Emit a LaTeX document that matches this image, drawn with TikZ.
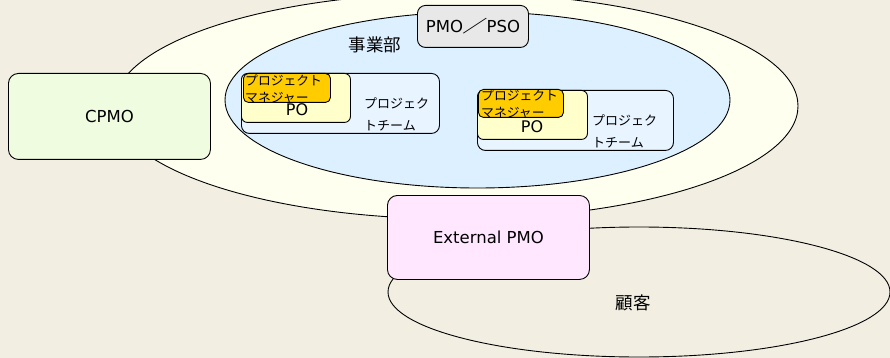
\documentclass[tikz,border=0pt]{standalone}
\usepackage{fontspec}
\usepackage{graphicx}
\setmainfont{Noto Sans CJK JP}
\newfontfamily\latf{DejaVu Sans}
\usetikzlibrary{shapes.geometric}
\definecolor{bgc}{RGB}{242,239,226}
\definecolor{outerc}{RGB}{255,255,240}
\definecolor{innerc}{RGB}{220,240,255}
\definecolor{teamc}{RGB}{232,244,255}
\definecolor{poc}{RGB}{255,255,204}
\definecolor{pmc}{RGB}{255,204,0}
\definecolor{cpmoc}{RGB}{240,252,224}
\definecolor{extc}{RGB}{255,232,255}
\definecolor{pmoc}{RGB}{232,232,232}
\tikzset{
  line/.style={draw=black, line width=0.9pt},
  oval/.style={line, ellipse, inner sep=0pt},
  boxs/.style={line, rectangle, inner sep=0pt, anchor=north west},
  bigtxt/.style={font=\fontsize{17.5}{21}\selectfont, inner sep=0pt},
  lattxt/.style={font=\latf\fontsize{16.5}{20}\selectfont, inner sep=0pt},
  smalltxt/.style={inner sep=0pt, align=left, anchor=west},
}
\begin{document}
\begin{tikzpicture}[x=1pt,y=-1pt]
\fill[bgc] (0,0) rectangle (890,358);
\useasboundingbox (0,0) rectangle (890,358);
\begin{scope}
\clip (0,0) rectangle (890,358);
\node[oval, fill=outerc, minimum width=684pt, minimum height=226pt] (outer) at (456,106) {};
\node[oval, fill=innerc, minimum width=505pt, minimum height=176pt] (inner) at (477.5,100) {};
\node[bigtxt] (bu) at (375,45) {事業部};
% team 1
\node[boxs, fill=teamc, rounded corners=8pt, minimum width=198pt, minimum height=60pt] (team1) at (241,73) {};
\node[boxs, fill=poc, rounded corners=6pt, minimum width=109pt, minimum height=49pt] (po1) at (241,73) {};
\node[boxs, fill=pmc, rounded corners=5pt, minimum width=87pt, minimum height=29pt] (pm1) at (243,73) {};
\node[smalltxt, font=\fontsize{12.8}{17}\selectfont] (pm1t) at (245,89.5) {プロジェクト\\マネジャー};
\node[lattxt, font=\latf\fontsize{16}{19}\selectfont] (po1t) at (297,110) {PO};
\node[smalltxt, font=\fontsize{13}{22}\selectfont] (team1t) at (364,114) {プロジェク\\トチーム};
% team 2
\node[boxs, fill=teamc, rounded corners=8pt, minimum width=196pt, minimum height=60pt] (team2) at (477,90) {};
\node[boxs, fill=poc, rounded corners=6pt, minimum width=110pt, minimum height=49pt] (po2) at (477,90) {};
\node[boxs, fill=pmc, rounded corners=5pt, minimum width=85pt, minimum height=28pt] (pm2) at (478,89) {};
\node[smalltxt, font=\fontsize{12.8}{17.5}\selectfont] (pm2t) at (481,104.5) {プロジェクト\\マネジャー};
\node[lattxt, font=\latf\fontsize{16}{19}\selectfont] (po2t) at (532,127) {PO};
\node[smalltxt, font=\fontsize{13}{22}\selectfont] (team2t) at (592,131) {プロジェク\\トチーム};
% customer
\node[oval, minimum width=502pt, minimum height=130pt] (cust) at (639,292) {};
\node[bigtxt] (custt) at (633,303) {顧客};
% boxes
\node[boxs, fill=cpmoc, rounded corners=10pt, minimum width=202pt, minimum height=86pt] (cpmo) at (8,73) {};
\node[lattxt] (cpmot) at (cpmo.center) {CPMO};
\node[boxs, fill=pmoc, rounded corners=8pt, minimum width=111pt, minimum height=42pt] (pmo) at (417,5) {};
\node[lattxt] (pmot) at (pmo.center) {PMO\hspace{-1pt}\scalebox{1.6}[1.05]{\normalfont\fontsize{16}{19}\selectfont ／}\hspace{-1pt}PSO};
\node[boxs, fill=extc, rounded corners=10pt, minimum width=202pt, minimum height=84pt] (ext) at (387,195) {};
\node[lattxt] (extt) at (ext.center) {External PMO};
\end{scope}
\end{tikzpicture}
\end{document}
